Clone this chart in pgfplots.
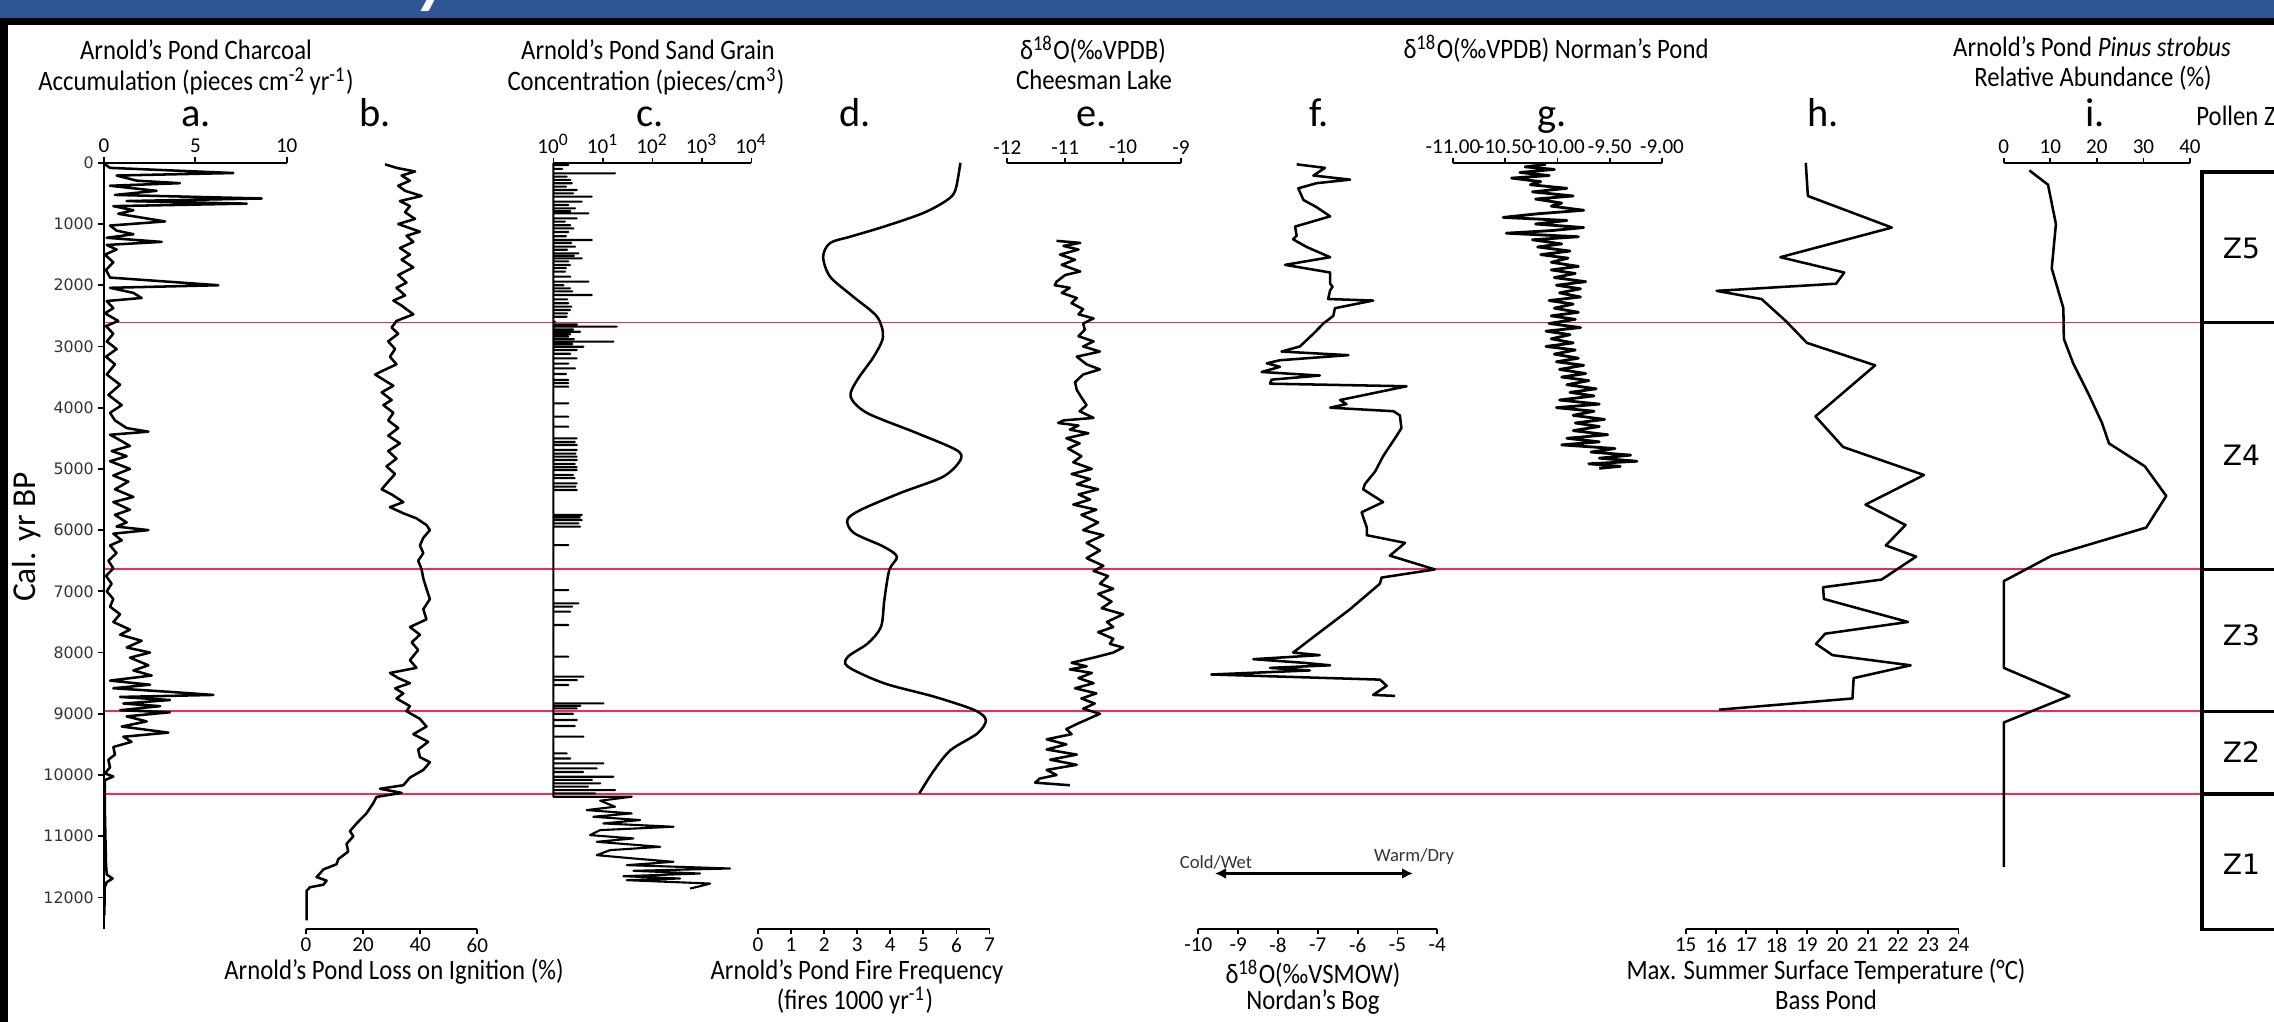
\documentclass[border=0pt]{standalone}
\usepackage{graphicx}
\usepackage{fontspec}
\setmainfont{Carlito}
\newfontfamily\dejavu{DejaVu Sans}
\usepackage{pgfplots}
\pgfplotsset{compat=1.18}
\usetikzlibrary{arrows.meta}
\definecolor{banner}{RGB}{47,85,151}
\definecolor{zonered}{RGB}{245,40,90}
\newcommand{\sq}[1]{\scalebox{0.88}[1]{#1}}
\newcommand{\ttl}{\fontsize{8}{9.6}\selectfont}
\newcommand{\tkf}{\fontsize{6}{7}\selectfont}

\pgfplotsset{
  panel/.style={scale only axis, anchor=center, y dir=reverse, ymin=0, ymax=12520,
    height=76.65mm, clip=false, xminorticks=false,
    scaled x ticks=false, scaled y ticks=false,
    tick align=outside, major tick length=0.45mm,
    axis line style={line width=0.55pt,-},
    tick style={line width=0.5pt,black},
    xticklabel style={font=\tkf, inner sep=1pt}},
  noy/.style={axis y line=none, ytick=\empty},
  toppanel/.style={panel, noy, axis x line*=top, xtick pos=right, xticklabel pos=right},
  botpanel/.style={panel, noy, axis x line*=bottom, xtick pos=left, xticklabel pos=left},
  trace/.style={black, line width=0.72pt, line join=round, mark=none},
}

\begin{document}
\begin{tikzpicture}[x=0.1mm,y=0.1mm]
\path[use as bounding box] (0,0) rectangle (2274,1022);
\begin{scope}
\clip (0,0) rectangle (2274,1022);

% banner and frame
\fill[banner] (0,1004) rectangle (2274,1022);
\fill[black] (0,997) rectangle (2274,1004);
\fill[black] (0,0) rectangle (8,997);
\node[white, anchor=base, font=\fontsize{20}{20}\selectfont\bfseries\itshape] at (434,1021) {y};

% zone lines and pollen zone boxes
\begin{axis}[panel, hide axis, xmin=0, xmax=1, width=209.8mm, at={(115.3mm,47.595mm)}]
\addplot[zonered, line width=0.5pt] coordinates {(0,2610)(1,2610)};
\addplot[zonered, line width=0.5pt] coordinates {(0,6640)(1,6640)};
\addplot[zonered, line width=0.5pt] coordinates {(0,8960)(1,8960)};
\addplot[zonered, line width=0.5pt] coordinates {(0,10310)(1,10310)};
\draw[line width=0.9pt] (axis cs:1.06,150) -- (axis cs:1,150) -- (axis cs:1,12525) -- (axis cs:1.06,12525);
\draw[line width=0.9pt] (axis cs:1,2610) -- (axis cs:1.06,2610);
\draw[line width=0.9pt] (axis cs:1,6640) -- (axis cs:1.06,6640);
\draw[line width=0.9pt] (axis cs:1,8960) -- (axis cs:1.06,8960);
\draw[line width=0.9pt] (axis cs:1,10310) -- (axis cs:1.06,10310);
\node[font=\dejavu\fontsize{8}{9}\selectfont] at (axis cs:1.0188,1400) {Z5};
\node[font=\dejavu\fontsize{8}{9}\selectfont] at (axis cs:1.0188,4770) {Z4};
\node[font=\dejavu\fontsize{8}{9}\selectfont] at (axis cs:1.0188,7710) {Z3};
\node[font=\dejavu\fontsize{8}{9}\selectfont] at (axis cs:1.0188,9625) {Z2};
\node[font=\dejavu\fontsize{8}{9}\selectfont] at (axis cs:1.0188,11460) {Z1};
\end{axis}

% a. charcoal accumulation, with the shared age axis
\begin{axis}[panel, xmin=0, xmax=10, width=18.27mm, at={(19.535mm,47.595mm)},
  axis x line*=top, xtick pos=right, xticklabel pos=right,
  xtick={0,5,10}, xticklabels={0,5,10},
  axis y line*=left, ytick pos=left, yticklabel pos=left, major tick length=0.6mm,
  ytick={0,1000,2000,3000,4000,5000,6000,7000,8000,9000,10000,11000,12000},
  yticklabels={0,1000,2000,3000,4000,5000,6000,7000,8000,9000,10000,11000,12000},
  yticklabel style={font=\dejavu\fontsize{4.5}{5}\selectfont, text=black!80, inner sep=1pt}]
\addplot[trace] coordinates {
(0.05,25)(0.33,83)(7.08,167)(0.69,208)(1.79,292)(4.16,333)(0.33,375)(2.88,458)(0.60,525)(8.63,583)
(1.24,625)(7.81,667)(0.51,708)(1.61,775)(0.78,833)(3.34,958)(0.33,1025)(0.69,1108)(1.61,1167)(0.15,1225)
(3.16,1292)(0.15,1342)(0.69,1417)(0.05,1500)(0.51,1625)(0.11,1750)(0.33,1875)(6.26,2000)(0.33,2042)(1.61,2125)
(2.06,2208)(0.15,2258)(0.51,2375)(0.05,2458)(0.78,2583)(0.11,2667)(0.51,2792)(0.15,2917)(0.69,3042)(0.11,3167)
(0.60,3292)(0.15,3458)(0.88,3625)(0.24,3792)(0.97,3958)(0.33,4083)(0.60,4208)(1.24,4333)(2.43,4392)(0.33,4442)
(0.69,4500)(1.42,4625)(0.42,4708)(1.24,4792)(0.33,4875)(1.42,5000)(0.51,5108)(1.33,5208)(0.60,5333)(1.61,5458)
(0.51,5542)(1.42,5667)(0.60,5750)(1.24,5875)(0.69,5942)(2.43,6000)(0.51,6058)(0.97,6167)(0.33,6250)(0.69,6375)
(0.24,6500)(0.51,6625)(0.11,6750)(0.42,6875)(0.15,7000)(0.51,7125)(0.33,7250)(0.88,7375)(0.51,7500)(1.42,7625)
(0.88,7708)(2.06,7808)(1.24,7917)(2.52,8000)(1.42,8083)(2.43,8208)(1.61,8292)(2.61,8375)(0.33,8458)(2.52,8525)
(0.51,8583)(3.61,8642)(5.99,8692)(0.88,8725)(3.61,8775)(1.06,8833)(3.07,8875)(0.88,8942)(3.61,8975)(1.24,9042)
(2.34,9125)(0.97,9208)(3.52,9308)(1.06,9375)(1.51,9458)(0.51,9542)(0.60,9667)(0.24,9750)(0.33,9875)(0.05,9975)
(0.51,10025)(0.05,10083)(0.04,10292)(0.05,10625)(0.11,11458)(0.15,11625)(0.47,11692)(0.15,11750)(0.04,11833)(0.02,12292)
};
\end{axis}

% b. loss on ignition
\begin{axis}[botpanel, xmin=0, xmax=60, width=17.13mm, at={(39.165mm,47.595mm)},
  xtick={0,20,40,60}, xticklabels={0,20,40,60}]
\addplot[trace] coordinates {
(27.7,25)(31.7,83)(38.2,142)(33.5,208)(36.4,292)(32.3,375)(34.7,458)(40.5,542)(32.9,625)(36.4,708)
(34.7,808)(38.2,917)(32.3,1000)(39.9,1125)(35.2,1192)(37.6,1292)(32.9,1392)(36.4,1500)(33.5,1583)(37.6,1708)
(32.3,1833)(35.2,1958)(31.7,2042)(34.7,2167)(30.6,2250)(33.5,2333)(37.6,2475)(31.7,2583)(30.0,2692)(32.3,2792)
(28.8,2917)(31.2,3042)(29.4,3167)(31.7,3292)(27.1,3392)(24.2,3458)(27.1,3542)(30.6,3642)(26.5,3750)(30.0,3875)
(27.1,3958)(30.6,4083)(28.8,4208)(32.3,4333)(28.8,4458)(32.9,4583)(28.8,4708)(31.7,4833)(28.2,4958)(31.2,5083)
(28.8,5208)(26.5,5333)(30.0,5417)(34.1,5542)(29.4,5625)(34.1,5725)(38.7,5808)(42.2,5917)(43.4,6000)(41.1,6125)
(39.9,6250)(41.1,6375)(39.3,6500)(40.5,6642)(41.1,6792)(42.2,6958)(43.4,7125)(41.1,7292)(42.2,7458)(36.4,7583)
(39.9,7708)(37.0,7833)(39.3,7958)(36.4,8125)(38.7,8250)(29.4,8333)(32.3,8417)(36.4,8500)(31.2,8583)(34.1,8667)
(31.7,8750)(36.4,8875)(35.2,8958)(39.9,9083)(42.2,9208)(37.6,9333)(42.8,9458)(39.3,9583)(39.9,9708)(43.4,9792)
(41.1,9917)(36.4,10042)(34.1,10167)(25.9,10225)(33.5,10292)(24.7,10358)(23.6,10458)(21.2,10625)(17.7,10792)(15.4,10917)
(16.6,11000)(14.2,11125)(14.8,11250)(11.3,11375)(10.7,11458)(6.1,11542)(4.9,11608)(3.7,11667)(7.2,11725)(6.1,11792)
(1.4,11833)(0.2,11892)(0.2,12375)
};
\end{axis}

% c. sand grain concentration (log axis)
\begin{axis}[toppanel, xmode=log, xmin=1, xmax=10000, width=19.81mm, at={(65.245mm,47.595mm)},
  xtick={1,10,100,1000,10000},
  xticklabels={10\textsuperscript{0},10\textsuperscript{1},10\textsuperscript{2},10\textsuperscript{3},10\textsuperscript{4}}]
\addplot[trace, line width=0.6pt] coordinates {
(1,0)
(1,36)(2.0,36)(1,36) (1,100)(1.5,100)(1,100) (1,172)(17.6,172)(1,172) (1,226)(1.86,226)(1,226)
(1,280)(2.2,280)(1,280) (1,335)(2.35,335)(1,335) (1,390)(1.8,390)(1,390) (1,444)(2.96,444)(1,444)
(1,500)(2.5,500)(1,500) (1,553)(5.95,553)(1,553) (1,635)(3.73,635)(1,635) (1,690)(2.0,690)(1,690)
(1,744)(2.74,744)(1,744) (1,790)(2.2,790)(1,790) (1,826)(5.1,826)(1,826) (1,907)(2.96,907)(1,907)
(1,960)(1.7,960)(1,960) (1,1020)(2.2,1020)(1,1020) (1,1071)(2.54,1071)(1,1071) (1,1130)(2.0,1130)(1,1130)
(1,1200)(1.8,1200)(1,1200) (1,1261)(5.95,1261)(1,1261) (1,1310)(2.3,1310)(1,1310) (1,1370)(2.74,1370)(1,1370)
(1,1420)(1.9,1420)(1,1420) (1,1479)(3.2,1479)(1,1479) (1,1520)(2.6,1520)(1,1520) (1,1561)(3.73,1561)(1,1561)
(1,1610)(2.0,1610)(1,1610) (1,1670)(2.17,1670)(1,1670) (1,1720)(1.8,1720)(1,1720) (1,1778)(1.72,1778)(1,1778)
(1,1860)(2.2,1860)(1,1860) (1,1942)(5.1,1942)(1,1942) (1,2000)(1.6,2000)(1,2000) (1,2051)(2.17,2051)(1,2051)
(1,2100)(2.4,2100)(1,2100) (1,2160)(5.95,2160)(1,2160) (1,2230)(1.9,2230)(1,2230) (1,2295)(2.0,2295)(1,2295)
(1,2350)(2.3,2350)(1,2350) (1,2404)(2.17,2404)(1,2404) (1,2460)(1.9,2460)(1,2460) (1,2514)(1.86,2514)(1,2514)
(1,2595)(1.08,2595)(1,2595) (1,2640)(3.0,2640)(1,2640) (1,2677)(19.0,2677)(1,2677) (1,2720)(2.5,2720)(1,2720)
(1,2759)(3.45,2759)(1,2759) (1,2800)(2.2,2800)(1,2800) (1,2840)(2.0,2840)(1,2840) (1,2880)(2.6,2880)(1,2880)
(1,2922)(16.3,2922)(1,2922) (1,2960)(2.4,2960)(1,2960) (1,3004)(4.04,3004)(1,3004) (1,3058)(2.96,3058)(1,3058)
(1,3120)(2.2,3120)(1,3120) (1,3194)(2.96,3194)(1,3194) (1,3280)(2.0,3280)(1,3280) (1,3357)(2.74,3357)(1,3357)
(1,3450)(1.8,3450)(1,3450) (1,3548)(2.0,3548)(1,3548) (1,3600)(2.0,3600)(1,3600) (1,3657)(2.0,3657)(1,3657)
(1,3929)(2.0,3929)(1,3929) (1,4147)(2.0,4147)(1,4147) (1,4310)(2.0,4310)(1,4310) (1,4501)(2.96,4501)(1,4501)
(1,4560)(2.7,4560)(1,4560) (1,4610)(2.96,4610)(1,4610) (1,4691)(2.96,4691)(1,4691) (1,4750)(2.8,4750)(1,4750)
(1,4800)(2.96,4800)(1,4800) (1,4855)(2.96,4855)(1,4855) (1,4920)(2.7,4920)(1,4920) (1,4970)(2.96,4970)(1,4970)
(1,5018)(2.96,5018)(1,5018) (1,5100)(2.5,5100)(1,5100) (1,5150)(2.7,5150)(1,5150) (1,5236)(2.96,5236)(1,5236)
(1,5290)(2.8,5290)(1,5290) (1,5345)(2.96,5345)(1,5345) (1,5753)(3.73,5753)(1,5753) (1,5790)(3.4,5790)(1,5790)
(1,5835)(3.73,5835)(1,5835) (1,5890)(3.2,5890)(1,5890) (1,5944)(3.45,5944)(1,5944) (1,6244)(2.0,6244)(1,6244)
(1,6979)(2.0,6979)(1,6979) (1,7196)(3.2,7196)(1,7196) (1,7250)(2.4,7250)(1,7250) (1,7332)(2.17,7332)(1,7332)
(1,7550)(2.0,7550)(1,7550) (1,8067)(2.0,8067)(1,8067) (1,8394)(4.04,8394)(1,8394) (1,8450)(3.0,8450)(1,8450)
(1,8530)(2.0,8530)(1,8530) (1,8830)(10.2,8830)(1,8830) (1,8870)(3.5,8870)(1,8870) (1,8911)(2.96,8911)(1,8911)
(1,9000)(2.5,9000)(1,9000) (1,9102)(2.96,9102)(1,9102) (1,9200)(2.7,9200)(1,9200) (1,9374)(4.04,9374)(1,9374)
(1,9647)(1.86,9647)(1,9647) (1,9730)(2.2,9730)(1,9730) (1,9810)(10.2,9810)(1,9810) (1,9892)(7.5,9892)(1,9892)
(1,9950)(4.0,9950)(1,9950) (1,10028)(16.3,10028)(1,10028) (1,10080)(6.0,10080)(1,10080) (1,10137)(8.8,10137)(1,10137)
(1,10190)(5.0,10190)(1,10190) (1,10246)(17.6,10246)(1,10246) (1,10300)(7.0,10300)(1,10300) (1,10355)(38.2,10355)
(8.8,10420)(17.6,10518)(4.7,10573)(38.2,10627)(6.4,10682)(56.4,10736)(10.2,10791)(266,10845)(8.8,10900)(5.5,10982)
(41.3,11036)(7.5,11091)(143,11173)(14.0,11227)(7.5,11309)(41.3,11363)(266,11418)(30.3,11472)(3707,11527)(41.3,11565)
(918,11609)(25.9,11653)(362,11691)(30.3,11718)(1462,11773)(918,11816)(577,11854)
};
\end{axis}

% d. fire frequency
\begin{axis}[botpanel, xmin=0, xmax=7, width=23.15mm, at={(87.375mm,47.595mm)},
  xtick={0,1,2,3,4,5,6,7}, xticklabels={0,1,2,3,4,5,6,7}]
\addplot[trace, smooth, tension=0.5] coordinates {
(6.12,0)(5.97,444)(5.72,608)(5.0,820)(3.8,1044)(2.79,1207)(2.18,1310)(1.97,1533)(2.18,1860)(2.88,2187)
(3.6,2514)(3.78,2841)(3.5,3167)(3.0,3548)(2.8,3821)(3.3,4087)(4.8,4414)(6.0,4692)(6.12,4855)(5.6,5127)
(4.3,5394)(3.1,5671)(2.7,5835)(2.9,6047)(3.8,6271)(4.2,6434)(3.97,6652)(3.82,7142)(3.72,7578)(3.32,7850)
(2.72,8068)(2.72,8231)(3.82,8503)(5.33,8721)(6.54,8938)(6.89,9101)(6.64,9319)(5.83,9591)(5.33,9918)(4.88,10299)
};
\end{axis}

% e. Cheesman Lake d18O
\begin{axis}[toppanel, xmin=-12, xmax=-9, width=17.37mm, at={(109.415mm,47.595mm)},
  xtick={-12,-11,-10,-9}, xticklabels={-12,-11,-10,-9}]
\addplot[trace] coordinates {
(-11.15,1275)(-10.74,1308)(-11.03,1358)(-10.77,1417)(-11.09,1500)(-10.83,1583)(-11.06,1667)(-10.74,1775)(-11.00,1833)(-11.15,1942)
(-11.18,2000)(-10.92,2042)(-11.06,2125)(-10.80,2208)(-10.89,2292)(-10.69,2392)(-10.77,2475)(-10.51,2542)(-10.69,2625)(-10.66,2725)
(-10.77,2833)(-10.51,2917)(-10.69,3000)(-10.40,3083)(-10.80,3167)(-10.63,3292)(-10.40,3375)(-10.69,3458)(-10.83,3583)(-10.80,3708)
(-10.72,3833)(-10.63,3958)(-10.75,4058)(-10.51,4167)(-11.03,4208)(-11.12,4250)(-10.77,4292)(-10.92,4358)(-10.60,4417)(-10.98,4500)
(-10.75,4583)(-10.95,4667)(-10.72,4792)(-10.86,4892)(-10.54,5000)(-10.89,5083)(-10.57,5167)(-10.80,5250)(-10.43,5333)(-10.77,5417)
(-10.57,5500)(-10.86,5583)(-10.46,5667)(-10.72,5750)(-10.43,5875)(-10.69,6000)(-10.34,6083)(-10.63,6208)(-10.40,6333)(-10.63,6458)
(-10.34,6583)(-10.51,6667)(-10.26,6750)(-10.40,6875)(-10.17,6958)(-10.43,7042)(-10.20,7167)(-10.37,7275)(-10.00,7375)(-10.28,7500)
(-10.17,7583)(-10.43,7667)(-10.17,7775)(-10.23,7858)(-10.00,7917)(-10.17,8000)(-10.34,8042)(-10.51,8083)(-10.89,8167)(-10.63,8225)
(-10.92,8275)(-10.54,8333)(-10.77,8417)(-10.51,8500)(-10.83,8583)(-10.46,8667)(-10.72,8750)(-10.49,8833)(-10.69,8917)(-10.40,9000)
(-10.60,9083)(-10.80,9167)(-10.98,9250)(-10.89,9333)(-11.32,9417)(-10.98,9500)(-11.32,9583)(-10.80,9667)(-11.26,9750)(-10.80,9833)
(-11.32,9917)(-11.15,10000)(-11.44,10058)(-11.52,10125)(-10.92,10167)
};
\end{axis}

% f. Nordan's Bog d18O
\begin{axis}[botpanel, xmin=-10, xmax=-4, width=23.9mm, at={(131.78mm,47.595mm)},
  xtick={-10,-9,-8,-7,-6,-5,-4}, xticklabels={-10,-9,-8,-7,-6,-5,-4}]
\addplot[trace] coordinates {
(-7.53,25)(-6.82,83)(-7.11,208)(-6.19,275)(-7.03,333)(-7.49,417)(-7.36,608)(-7.03,725)(-6.69,875)(-7.57,1042)
(-7.53,1192)(-7.62,1250)(-7.28,1375)(-6.69,1542)(-7.82,1667)(-6.69,1792)(-6.69,1975)(-6.63,2025)(-6.69,2083)(-6.74,2225)
(-5.61,2250)(-6.57,2375)(-6.61,2500)(-6.86,2625)(-7.11,2792)(-7.45,3000)(-7.91,3083)(-6.23,3142)(-7.95,3225)(-8.28,3275)
(-7.95,3333)(-8.41,3417)(-6.95,3475)(-8.16,3542)(-8.20,3608)(-4.77,3650)(-6.44,3875)(-6.28,3942)(-6.69,4000)(-5.10,4058)
(-4.94,4125)(-4.90,4333)(-5.02,4458)(-5.36,4792)(-5.56,5042)(-5.82,5250)(-5.86,5333)(-5.36,5542)(-5.90,5708)(-5.77,5958)
(-5.77,6083)(-4.81,6208)(-5.19,6417)(-4.06,6642)(-5.40,6775)(-5.44,6875)(-6.19,7292)(-6.95,7667)(-7.62,8000)(-6.95,8042)
(-8.62,8108)(-7.36,8167)(-6.69,8208)(-8.20,8250)(-7.20,8292)(-9.67,8358)(-5.44,8442)(-5.27,8542)(-5.61,8692)(-5.06,8708)
};
\end{axis}

% g. Norman's Pond d18O
\begin{axis}[toppanel, xmin=-11, xmax=-9, width=20.9mm, at={(155.75mm,47.595mm)},
  xtick={-11,-10.5,-10,-9.5,-9}, xticklabels={-11.00,-10.50,-10.00,-9.50,-9.00}]
\addplot[trace, line width=0.8pt] coordinates {
(-10.11,25)(-10.31,67)(-10.03,108)(-10.36,158)(-10.08,208)(-10.44,250)(-10.16,308)(-10.26,358)(-9.91,417)(-10.24,475)
(-9.85,542)(-10.21,592)(-9.96,658)(-10.06,708)(-9.75,775)(-10.19,833)(-10.52,892)(-9.91,942)(-10.21,1000)(-9.75,1058)
(-10.06,1108)(-10.49,1150)(-9.80,1208)(-10.24,1258)(-9.96,1325)(-10.19,1375)(-9.88,1442)(-10.16,1500)(-9.90,1558)(-10.06,1625)
(-9.80,1692)(-10.06,1750)(-9.83,1808)(-10.03,1875)(-9.73,1942)(-10.01,2000)(-9.78,2058)(-9.98,2125)(-9.78,2192)(-10.08,2250)
(-9.85,2308)(-10.03,2375)(-9.80,2442)(-10.06,2500)(-9.83,2558)(-10.08,2625)(-9.78,2692)(-10.11,2750)(-9.88,2808)(-10.06,2875)
(-9.85,2942)(-10.11,3000)(-9.83,3058)(-10.03,3125)(-9.80,3192)(-10.01,3250)(-9.75,3308)(-9.98,3375)(-9.73,3442)(-9.96,3500)
(-9.70,3558)(-9.91,3625)(-9.63,3692)(-9.88,3750)(-9.65,3808)(-9.98,3875)(-9.60,3942)(-10.01,4000)(-9.65,4058)(-9.85,4125)
(-9.55,4192)(-9.83,4250)(-9.60,4308)(-9.85,4375)(-9.52,4442)(-9.91,4500)(-9.60,4558)(-9.96,4608)(-9.45,4667)(-9.68,4725)
(-9.30,4775)(-9.60,4825)(-9.24,4875)(-9.70,4917)(-9.40,4958)(-9.60,4992)
};
\end{axis}

% h. Bass Pond temperature
\begin{axis}[botpanel, xmin=15, xmax=24, width=27.29mm, at={(182.215mm,47.595mm)},
  xtick={15,16,17,18,19,20,21,22,23,24}, xticklabels={15,16,17,18,19,20,21,22,23,24}]
\addplot[trace] coordinates {
(18.96,0)(19.03,542)(21.8,1058)(18.12,1542)(20.23,1792)(19.96,1975)(16.02,2092)(17.5,2225)(18.3,2583)(19.0,2942)
(21.25,3308)(19.28,4142)(20.19,4642)(22.86,5100)(20.93,5583)(22.25,5917)(21.6,6250)(22.6,6433)(21.46,6808)(19.53,6933)
(19.56,7125)(22.33,7500)(19.6,7692)(19.3,7858)(19.84,8042)(22.42,8208)(20.54,8417)(20.5,8750)(16.1,8933)
};
\end{axis}

% i. Pinus strobus
\begin{axis}[toppanel, xmin=0, xmax=40, width=18.62mm, at={(209.69mm,47.595mm)},
  xtick={0,10,20,30,40}, xticklabels={0,10,20,30,40}]
\addplot[trace] coordinates {
(5.5,125)(9.5,358)(11.2,1000)(10.3,1725)(12.8,2375)(12.9,2875)(14.9,3275)(18.3,3792)(21.1,4250)(22.6,4583)
(30.3,4958)(34.9,5442)(30.6,5958)(10.3,6417)(0,6833)(0,8250)(14.1,8708)(0,9142)(0,11500)
};
\end{axis}

% titles
\node[font=\ttl, anchor=base] at (196,962) {\sq{Arnold’s Pond Charcoal}};
\node[font=\ttl, anchor=base] at (196,931) {\sq{Accumulation (pieces cm\textsuperscript{-2}\,yr\textsuperscript{-1})}};
\node[font=\ttl, anchor=base] at (648,962) {\sq{Arnold’s Pond Sand Grain}};
\node[font=\ttl, anchor=base] at (646,931) {\sq{Concentration (pieces/cm\textsuperscript{3})}};
\node[font=\ttl, anchor=base] at (1093,962) {\sq{δ\textsuperscript{18}O(‰VPDB)}};
\node[font=\ttl, anchor=base] at (1094,932) {\sq{Cheesman Lake}};
\node[font=\ttl, anchor=base] at (1556,963) {\sq{δ\textsuperscript{18}O(‰VPDB) Norman’s Pond}};
\node[font=\ttl, anchor=base] at (2092,965) {\sq{Arnold’s Pond \textit{Pinus strobus}}};
\node[font=\ttl, anchor=base] at (2093,935) {\sq{Relative Abundance (\%)}};
\node[font=\ttl, anchor=base west] at (2184,896) {\sq{Pollen Zones}};

% panel letters
\foreach \px/\lt in {196/a., 375/b., 650/c., 855/d., 1092/e., 1319/f., 1552/g., 1823/h., 2095/i.}
  \node[font=\fontsize{11.5}{12}\selectfont, anchor=base] at (\px,895) {\lt};

% bottom labels
\node[font=\ttl, anchor=base] at (394,42) {\sq{Arnold’s Pond Loss on Ignition (\%)}};
\node[font=\ttl, anchor=base] at (857,42) {\sq{Arnold’s Pond Fire Frequency}};
\node[font=\ttl, anchor=base] at (855,12) {\sq{(fires 1000 yr\textsuperscript{-1})}};
\node[font=\ttl, anchor=base] at (1313,38) {\sq{δ\textsuperscript{18}O(‰VSMOW)}};
\node[font=\ttl, anchor=base] at (1313,12) {\sq{Nordan’s Bog}};
\node[font=\ttl, anchor=base] at (1826,42) {\sq{Max. Summer Surface Temperature (°C)}};
\node[font=\ttl, anchor=base] at (1826,12) {\sq{Bass Pond}};

\node[font=\fontsize{9.5}{10}\selectfont, rotate=90] at (27,485) {Cal. yr BP};

% climate arrow
\draw[line width=0.85pt, {Latex[length=1.1mm,width=1.1mm]}-{Latex[length=1.1mm,width=1.1mm]}] (1215,148.5) -- (1413,148.5);
\node[font=\fontsize{5.3}{6}\selectfont, text=black!80] at (1216,160) {Cold/Wet};
\node[font=\fontsize{5.3}{6}\selectfont, text=black!80] at (1414,165) {Warm/Dry};
\end{scope}
\end{tikzpicture}
\end{document}
